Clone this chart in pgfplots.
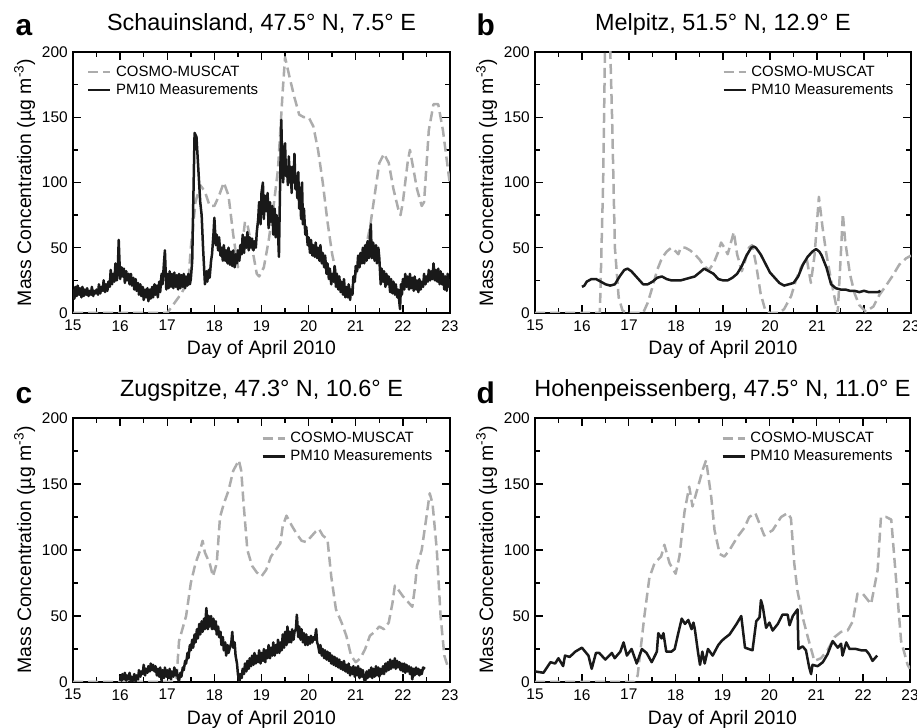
\documentclass[border=0pt]{standalone}
\usepackage{fontspec}
\setmainfont{Liberation Sans}
\usepackage{pgfplots}
\pgfplotsset{compat=1.18}
\definecolor{modgray}{RGB}{172,172,172}
\definecolor{meas}{RGB}{25,25,25}
\pgfplotsset{
  panel/.style={
    scale only axis,
    xmin=15, xmax=23, ymin=0, ymax=200,
    xtick={15,16,...,23}, ytick={0,50,...,200},
    minor x tick num=1, minor y tick num=1,
    tick align=inside, xtick pos=both, ytick pos=both,
    xticklabel pos=lower, yticklabel pos=left,
    major tick length=8bp, minor tick length=5bp,
    line width=2bp,
    every tick/.style={line width=1.4bp, black},
    tick label style={font=\fontsize{15.5}{18}\selectfont},
    /pgf/number format/assume math mode=true,
    xticklabel style={yshift=-3bp},
    yticklabel style={xshift=-1bp},
    xlabel={Day of April 2010},
    ylabel={Mass Concentration (µg m\textsuperscript{-3})},
    label style={font=\fontsize{19.5}{23}\selectfont},
    xlabel style={at={([yshift=-42bp]axis description cs:0.5,0)}, anchor=base},
    ylabel style={at={([xshift=-42bp]axis description cs:0,0.5)}, anchor=base},
    title style={font=\fontsize{23.5}{28}\selectfont, at={([yshift=16bp]axis description cs:0.5,1)}, anchor=base},
    legend style={draw=none, fill=none, font=\fontsize{15}{18}\selectfont, inner sep=0pt, row sep=3bp,
      nodes={inner sep=1.5bp}, /tikz/every odd column/.append style={column sep=3bp}},
    legend cell align=left,
    legend image code/.code={\draw[##1, line width=2.5bp] (0bp,0bp) -- (22bp,0bp);},
  },
  model/.style={color=modgray, line width=2.5bp, dash pattern=on 10bp off 5bp, line join=round},
  obs/.style={color=meas, line width=2.5bp, line join=round},
}
\begin{document}
\begin{tikzpicture}
\path[use as bounding box] (0,0) rectangle (917bp,728bp);

% ---------------- a ----------------
\begin{axis}[panel, name=A, at={(73bp,415bp)}, anchor=south west, width=377bp, height=261bp,
  title={Schauinsland, 47.5° N, 7.5° E},
  legend style={at={(axis description cs:0.035,0.955)}, anchor=north west}]
\addplot[model] coordinates {
(15.0,0) (16.0,0) (17.0,0) (17.1,5) (17.2,10) (17.3,15) (17.45,25) (17.5,50) (17.6,85) (17.7,98)
(17.8,93) (17.9,82) (18.0,82) (18.1,90) (18.2,100) (18.3,90) (18.4,60) (18.5,35) (18.6,55) (18.65,70)
(18.7,68) (18.8,50) (18.9,30) (18.95,28) (19.05,35) (19.15,55) (19.25,80) (19.35,110) (19.45,170) (19.5,196)
(19.6,180) (19.7,165) (19.8,152) (19.9,150) (20.0,150) (20.1,143) (20.2,125) (20.3,100) (20.4,70) (20.5,45)
(20.6,28) (20.7,20) (20.8,15) (20.9,18) (21.0,30) (21.1,40) (21.2,48) (21.3,65) (21.4,90) (21.5,115)
(21.6,122) (21.7,115) (21.8,95) (21.9,80) (21.95,75) (22.0,85) (22.1,115) (22.15,125) (22.2,115) (22.3,95)
(22.4,82) (22.45,85) (22.55,140) (22.65,160) (22.75,160) (22.85,140) (23.0,98)
};
\addlegendentry{COSMO-MUSCAT}
\addplot[obs] coordinates {
(15.00,18) (15.03,11) (15.05,20) (15.08,13) (15.10,21) (15.13,14) (15.15,19) (15.18,12) (15.20,20) (15.23,13)
(15.25,18) (15.28,14) (15.30,19) (15.33,13) (15.35,17) (15.38,14) (15.40,20) (15.43,13) (15.45,17) (15.48,15)
(15.50,18) (15.53,14) (15.55,22) (15.58,15) (15.60,20) (15.63,17) (15.65,25) (15.68,16) (15.70,22) (15.73,17)
(15.75,24) (15.78,20) (15.80,33) (15.83,22) (15.85,30) (15.88,24) (15.90,38) (15.93,25) (15.95,32) (15.97,56)
(16.00,26) (16.03,35) (16.05,28) (16.08,34) (16.10,23) (16.13,32) (16.15,25) (16.18,30) (16.20,22) (16.23,30)
(16.25,21) (16.28,27) (16.30,18) (16.33,26) (16.35,17) (16.38,23) (16.40,14) (16.43,22) (16.45,13) (16.48,20)
(16.50,10) (16.53,18) (16.55,12) (16.58,19) (16.60,9) (16.63,18) (16.65,11) (16.68,20) (16.70,12) (16.73,22)
(16.75,14) (16.78,21) (16.80,12) (16.83,24) (16.85,16) (16.88,30) (16.90,22) (16.93,38) (16.95,48) (16.98,18)
(17.00,30) (17.03,19) (17.05,32) (17.08,20) (17.10,30) (17.13,19) (17.15,31) (17.18,20) (17.20,29) (17.23,18)
(17.25,30) (17.28,19) (17.30,29) (17.33,20) (17.35,30) (17.38,19) (17.40,28) (17.43,21) (17.45,30) (17.48,22)
(17.50,26) (17.53,40) (17.55,80) (17.58,138) (17.62,135) (17.66,110) (17.70,85) (17.73,75) (17.76,50) (17.80,22)
(17.83,32) (17.85,24) (17.88,33) (17.90,27) (17.93,40) (17.95,45) (17.98,60) (18.00,73) (18.03,52) (18.05,60)
(18.08,48) (18.10,58) (18.13,44) (18.15,50) (18.18,40) (18.20,52) (18.23,40) (18.25,48) (18.28,38) (18.30,50)
(18.33,37) (18.35,47) (18.38,36) (18.40,48) (18.43,35) (18.45,45) (18.48,38) (18.50,48) (18.53,40) (18.55,52)
(18.58,45) (18.60,60) (18.63,46) (18.65,58) (18.68,50) (18.70,62) (18.73,48) (18.75,58) (18.78,50) (18.80,57)
(18.83,48) (18.85,55) (18.88,50) (18.90,62) (18.93,72) (18.95,85) (18.98,68) (19.00,92) (19.03,100) (19.05,72)
(19.07,90) (19.10,78) (19.13,92) (19.15,65) (19.18,85) (19.20,70) (19.23,82) (19.25,60) (19.28,80) (19.30,58)
(19.32,75) (19.35,62) (19.37,43) (19.40,110) (19.42,148) (19.44,115) (19.46,100) (19.48,125) (19.50,130) (19.52,105)
(19.54,112) (19.56,98) (19.58,120) (19.60,100) (19.62,112) (19.64,92) (19.66,112) (19.68,100) (19.70,122) (19.72,95)
(19.74,105) (19.76,88) (19.78,108) (19.80,80) (19.82,96) (19.84,72) (19.86,100) (19.88,68) (19.90,80) (19.93,60)
(19.95,66) (19.98,52) (20.00,58) (20.03,46) (20.05,56) (20.08,44) (20.10,52) (20.13,43) (20.15,54) (20.18,42)
(20.20,50) (20.23,40) (20.25,52) (20.28,38) (20.30,46) (20.33,35) (20.35,44) (20.38,30) (20.40,38) (20.43,26)
(20.45,34) (20.48,22) (20.50,30) (20.53,24) (20.55,36) (20.58,20) (20.60,30) (20.63,18) (20.65,28) (20.68,16)
(20.70,24) (20.73,14) (20.75,26) (20.78,12) (20.80,20) (20.83,12) (20.85,22) (20.88,10) (20.90,18) (20.93,14)
(20.95,28) (20.98,24) (21.00,36) (21.03,32) (21.05,44) (21.08,35) (21.10,46) (21.13,38) (21.15,50) (21.18,38)
(21.20,52) (21.23,40) (21.25,55) (21.28,42) (21.30,58) (21.32,68) (21.34,42) (21.37,54) (21.40,40) (21.43,52)
(21.45,38) (21.48,50) (21.50,42) (21.53,22) (21.55,34) (21.58,24) (21.60,32) (21.63,20) (21.65,30) (21.68,22)
(21.70,28) (21.73,16) (21.75,26) (21.78,15) (21.80,24) (21.83,14) (21.85,22) (21.88,12) (21.90,18) (21.92,10)
(21.94,3) (21.96,22) (21.98,14) (22.00,26) (22.03,18) (22.05,30) (22.08,20) (22.10,28) (22.13,18) (22.15,30)
(22.18,19) (22.20,27) (22.23,17) (22.25,28) (22.28,18) (22.30,25) (22.33,16) (22.35,26) (22.38,18) (22.40,24)
(22.43,20) (22.45,30) (22.48,22) (22.50,28) (22.53,24) (22.55,33) (22.58,25) (22.60,32) (22.63,26) (22.65,38)
(22.68,25) (22.70,33) (22.73,24) (22.75,34) (22.78,22) (22.80,32) (22.83,22) (22.85,30) (22.88,18) (22.90,28)
(22.93,17) (22.95,30) (22.98,20) (23.00,26)
};
\addlegendentry{PM10 Measurements}
\end{axis}
\node[anchor=base west, font=\fontsize{30}{33}\selectfont\bfseries] at ([xshift=-61bp,yshift=16bp]A.north west) {a};

% ---------------- b ----------------
\begin{axis}[panel, name=B, at={(535bp,415bp)}, anchor=south west, width=376bp, height=261bp,
  title={Melpitz, 51.5° N, 12.9° E},
  legend style={at={(axis description cs:0.96,0.955)}, anchor=north east}]
\addplot[model] coordinates {
(15.0,0) (16.0,0) (16.38,0) (16.45,100) (16.50,230) (16.58,230) (16.64,150) (16.70,50) (16.78,12) (16.86,2)
(16.95,0) (17.3,0) (17.4,8) (17.5,20) (17.6,33) (17.7,42) (17.8,47) (17.9,50) (18.0,47) (18.05,45)
(18.1,50) (18.2,50) (18.3,48) (18.4,45) (18.5,41) (18.6,36) (18.7,33) (18.8,38) (18.9,47) (18.96,54)
(19.03,50) (19.1,45) (19.23,62) (19.3,45) (19.4,32) (19.47,40) (19.55,50) (19.62,52) (19.7,38) (19.8,15)
(19.9,2) (20.0,0) (20.2,0) (20.3,3) (20.45,13) (20.55,25) (20.66,35) (20.78,42) (20.87,23) (20.95,45)
(21.04,89) (21.12,65) (21.2,45) (21.3,25) (21.44,0) (21.5,40) (21.55,76) (21.6,55) (21.7,30) (21.8,15)
(21.9,6) (22.04,1) (22.2,5) (22.33,14) (22.45,20) (22.6,28) (22.75,37) (22.9,42) (23.0,44)
};
\addlegendentry{COSMO-MUSCAT}
\addplot[obs] coordinates {
(16.0,20) (16.05,21) (16.1,24) (16.15,25) (16.2,26) (16.3,26) (16.4,24) (16.5,22) (16.6,21) (16.7,22)
(16.8,28) (16.9,33) (16.97,34) (17.05,32) (17.1,30) (17.2,26) (17.3,22) (17.4,22) (17.5,24) (17.6,27)
(17.7,28) (17.8,26) (17.9,25) (18.0,25) (18.1,25) (18.2,26) (18.3,27) (18.4,28) (18.5,31) (18.6,34)
(18.7,32) (18.8,30) (18.9,26) (19.0,25) (19.1,25) (19.2,27) (19.3,30) (19.4,36) (19.5,44) (19.6,50)
(19.65,51) (19.7,50) (19.8,45) (19.9,38) (20.0,31) (20.1,27) (20.2,23) (20.3,21) (20.4,22) (20.5,23)
(20.6,28) (20.7,37) (20.8,43) (20.9,47) (20.98,49) (21.05,47) (21.1,44) (21.2,35) (21.3,22) (21.4,19)
(21.5,18) (21.6,18) (21.7,17) (21.8,17) (21.9,16) (22.0,17) (22.1,16) (22.2,16) (22.3,16) (22.35,17)
};
\addlegendentry{PM10 Measurements}
\end{axis}
\node[anchor=base west, font=\fontsize{30}{33}\selectfont\bfseries] at ([xshift=-62bp,yshift=16bp]B.north west) {b};

% ---------------- c ----------------
\begin{axis}[panel, name=C, at={(73bp,46bp)}, anchor=south west, width=377bp, height=264bp,
  title={Zugspitze, 47.3° N, 10.6° E},
  legend style={at={(axis description cs:0.96,0.955)}, anchor=north east}]
\addplot[model] coordinates {
(15.0,0) (16.0,0) (17.0,0) (17.15,0) (17.2,5) (17.25,31) (17.4,50) (17.5,75) (17.6,90) (17.7,100)
(17.75,107) (17.8,98) (17.9,90) (17.97,80) (18.05,90) (18.12,125) (18.2,135) (18.3,145) (18.4,160) (18.52,168)
(18.57,160) (18.62,135) (18.7,100) (18.8,88) (18.9,83) (19.0,80) (19.1,85) (19.2,95) (19.3,100) (19.4,105)
(19.45,118) (19.53,126) (19.65,118) (19.75,112) (19.85,107) (19.95,106) (20.05,110) (20.15,114) (20.22,116) (20.3,111)
(20.4,108) (20.48,80) (20.58,55) (20.7,45) (20.8,35) (20.9,20) (21.0,15) (21.1,18) (21.2,25) (21.3,35)
(21.4,38) (21.5,42) (21.6,40) (21.7,45) (21.78,60) (21.83,73) (21.9,70) (22.0,65) (22.2,57) (22.25,70)
(22.3,88) (22.4,100) (22.5,125) (22.57,143) (22.63,135) (22.72,100) (22.8,50) (22.88,20) (22.95,12) (23.0,10)
};
\addlegendentry{COSMO-MUSCAT}
\addplot[obs] coordinates {
(16.00,5) (16.03,1) (16.05,6) (16.08,2) (16.10,7) (16.13,1) (16.15,5) (16.18,2) (16.20,7) (16.23,0)
(16.25,4) (16.28,1) (16.30,6) (16.33,0) (16.35,5) (16.38,2) (16.40,9) (16.43,4) (16.45,8) (16.48,6)
(16.50,13) (16.53,5) (16.55,10) (16.58,7) (16.60,12) (16.63,8) (16.65,14) (16.68,9) (16.70,13) (16.73,8)
(16.75,12) (16.78,5) (16.80,10) (16.83,4) (16.85,11) (16.88,1) (16.90,9) (16.93,3) (16.95,11) (16.98,4)
(17.00,9) (17.03,3) (17.05,10) (17.08,2) (17.10,8) (17.13,4) (17.15,11) (17.18,5) (17.20,9) (17.23,2)
(17.25,1) (17.28,7) (17.30,4) (17.33,11) (17.35,9) (17.38,16) (17.40,14) (17.43,22) (17.45,18) (17.48,28)
(17.50,24) (17.53,32) (17.55,26) (17.58,36) (17.60,30) (17.63,40) (17.65,33) (17.68,44) (17.70,36) (17.73,46)
(17.75,38) (17.78,48) (17.80,40) (17.83,56) (17.86,40) (17.88,50) (17.90,42) (17.93,50) (17.95,40) (17.98,48)
(18.00,40) (18.03,46) (18.05,36) (18.08,42) (18.10,34) (18.13,38) (18.15,28) (18.18,34) (18.20,24) (18.23,30)
(18.25,20) (18.28,28) (18.30,22) (18.33,26) (18.36,30) (18.38,38) (18.40,26) (18.43,30) (18.45,20) (18.48,14)
(18.50,6) (18.53,0) (18.55,6) (18.58,3) (18.60,10) (18.63,6) (18.65,14) (18.68,8) (18.70,16) (18.73,10)
(18.75,18) (18.78,12) (18.80,20) (18.83,13) (18.85,22) (18.88,14) (18.90,20) (18.93,15) (18.95,24) (18.98,14)
(19.00,22) (19.03,16) (19.05,25) (19.08,15) (19.10,24) (19.13,18) (19.15,28) (19.18,18) (19.20,26) (19.23,20)
(19.25,30) (19.28,20) (19.30,28) (19.33,22) (19.35,32) (19.38,22) (19.40,30) (19.43,24) (19.45,36) (19.48,26)
(19.50,38) (19.53,28) (19.55,42) (19.58,30) (19.60,38) (19.63,30) (19.65,40) (19.68,32) (19.70,38) (19.73,40)
(19.75,51) (19.78,34) (19.80,42) (19.83,32) (19.85,40) (19.88,30) (19.90,37) (19.93,28) (19.95,36) (19.98,28)
(20.00,34) (20.03,29) (20.05,35) (20.08,30) (20.10,34) (20.13,32) (20.16,40) (20.18,30) (20.20,28) (20.23,22)
(20.25,28) (20.28,20) (20.30,25) (20.33,18) (20.35,24) (20.38,17) (20.40,23) (20.43,16) (20.45,22) (20.48,14)
(20.50,20) (20.53,13) (20.55,19) (20.58,12) (20.60,18) (20.63,11) (20.65,17) (20.68,10) (20.70,15) (20.73,9)
(20.75,16) (20.78,8) (20.80,13) (20.83,7) (20.85,14) (20.88,5) (20.90,11) (20.93,6) (20.95,12) (20.98,4)
(21.00,11) (21.03,5) (21.05,12) (21.08,3) (21.10,10) (21.13,4) (21.15,9) (21.18,2) (21.20,0) (21.23,8)
(21.25,3) (21.28,9) (21.30,4) (21.33,11) (21.35,3) (21.38,10) (21.40,4) (21.43,12) (21.45,5) (21.48,11)
(21.50,4) (21.53,10) (21.55,6) (21.58,12) (21.60,6) (21.63,14) (21.65,8) (21.68,15) (21.70,9) (21.73,17)
(21.75,10) (21.78,16) (21.80,11) (21.83,18) (21.85,10) (21.88,16) (21.90,11) (21.93,15) (21.95,9) (21.98,14)
(22.00,8) (22.03,14) (22.05,7) (22.08,13) (22.10,8) (22.13,12) (22.15,6) (22.18,11) (22.20,2) (22.23,10)
(22.25,5) (22.28,11) (22.30,6) (22.33,10) (22.35,5) (22.38,9) (22.40,6) (22.43,11) (22.47,10)
};
\addlegendentry{PM10 Measurements}
\end{axis}
\node[anchor=base west, font=\fontsize{30}{33}\selectfont\bfseries] at ([xshift=-61bp,yshift=14bp]C.north west) {c};

% ---------------- d ----------------
\begin{axis}[panel, name=D, at={(535bp,46bp)}, anchor=south west, width=375bp, height=264bp,
  title={Hohenpeissenberg, 47.5° N, 11.0° E},
  legend style={at={(axis description cs:0.96,0.955)}, anchor=north east}]
\addplot[model] coordinates {
(15.0,0) (16.0,0) (17.0,0) (17.12,0) (17.19,5) (17.33,49) (17.44,79) (17.55,90) (17.69,95) (17.76,104)
(17.87,90) (18.0,82) (18.08,95) (18.19,129) (18.29,148) (18.36,133) (18.47,147) (18.58,161) (18.65,168) (18.76,140)
(18.83,115) (18.94,97) (19.04,95) (19.15,100) (19.32,110) (19.47,117) (19.57,125) (19.7,128) (19.89,111) (20.07,115)
(20.25,125) (20.39,128) (20.46,124) (20.53,90) (20.6,69) (20.71,49) (20.82,34) (20.96,16) (21.1,18) (21.24,24)
(21.39,34) (21.53,38) (21.67,39) (21.78,46) (21.88,67) (21.99,67) (22.17,59) (22.31,85) (22.38,125) (22.49,125)
(22.6,123) (22.7,79) (22.81,31) (22.95,13) (23.0,10)
};
\addlegendentry{COSMO-MUSCAT}
\addplot[obs] coordinates {
(15.00,8) (15.18,7) (15.33,15) (15.43,14) (15.50,18) (15.60,12) (15.64,20) (15.74,19) (15.86,23) (16.00,26)
(16.07,23) (16.14,20) (16.21,10) (16.30,22) (16.37,22) (16.50,17) (16.64,22) (16.70,18) (16.82,23) (16.89,30)
(16.96,20) (17.06,25) (17.17,14) (17.28,25) (17.38,22) (17.49,15) (17.60,23) (17.63,37) (17.70,33) (17.74,37)
(17.80,23) (17.91,23) (17.98,25) (18.05,36) (18.13,48) (18.20,44) (18.27,47) (18.34,40) (18.38,45) (18.41,40)
(18.48,22) (18.52,13) (18.57,23) (18.62,14) (18.69,25) (18.79,20) (18.91,28) (18.98,31) (19.04,33) (19.15,36)
(19.30,44) (19.40,50) (19.48,26) (19.64,24) (19.72,46) (19.79,49) (19.82,62) (19.86,57) (19.93,41) (20.00,45)
(20.07,39) (20.18,44) (20.28,51) (20.39,51) (20.43,43) (20.50,50) (20.60,55) (20.62,25) (20.71,27) (20.78,24)
(20.85,11) (20.89,6) (20.92,13) (21.03,12) (21.14,15) (21.24,21) (21.35,31) (21.46,26) (21.53,29) (21.56,20)
(21.64,30) (21.71,25) (21.85,25) (21.96,24) (22.06,24) (22.13,21) (22.20,16) (22.30,20)
};
\addlegendentry{PM10 Measurements}
\end{axis}
\node[anchor=base west, font=\fontsize{30}{33}\selectfont\bfseries] at ([xshift=-62bp,yshift=14bp]D.north west) {d};
\end{tikzpicture}
\end{document}
